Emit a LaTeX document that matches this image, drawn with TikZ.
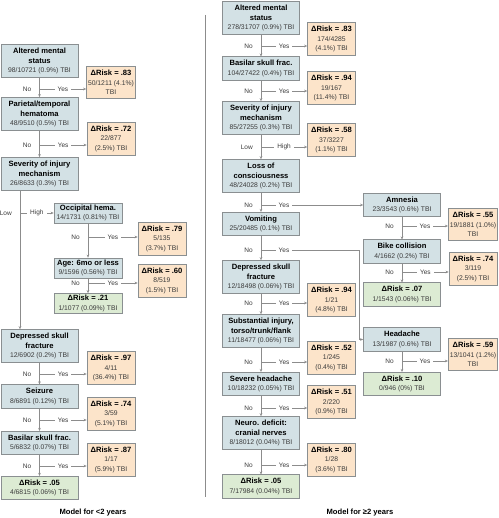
\documentclass[tikz,border=0pt]{standalone}
\usepackage{fontspec}
\setmainfont{Liberation Sans}
\usepackage{xcolor}
\usepackage{tikz}
\usetikzlibrary{arrows.meta}

\definecolor{nodeblue}{HTML}{D3E1E5}
\definecolor{riskorange}{HTML}{FCE4CA}
\definecolor{leafgreen}{HTML}{DCEBD3}
\definecolor{edgegray}{HTML}{8A8F91}
\definecolor{linegray}{HTML}{8C8C8C}
\definecolor{textgray}{HTML}{3A3A3A}

\newcommand{\ttl}[1]{{\fontsize{7.6}{9.5}\selectfont\bfseries\color{black}#1}}

\begin{document}
\begin{tikzpicture}[x=1pt,y=-1pt,
    box/.style={draw=edgegray,line width=0.7pt,align=center,inner xsep=1.5pt,inner ysep=3.5pt,
        font=\fontsize{6.8}{9.5}\selectfont,text=textgray},
    split/.style={box,fill=nodeblue,minimum width=77pt},
    subsplit/.style={box,fill=nodeblue,minimum width=68pt,inner ysep=1.8pt},
    risk/.style={box,fill=riskorange,minimum width=48pt},
    leaf/.style={box,fill=leafgreen,minimum width=77pt},
    subleaf/.style={leaf,minimum width=68pt,inner ysep=1.8pt},
    flow/.style={draw=linegray,line width=0.6pt,-{Stealth[length=3pt,width=2.6pt]}},
    lbl/.style={font=\fontsize{6.5}{8}\selectfont,text=textgray,inner sep=1pt},
    yeslbl/.style={lbl,fill=white,inner xsep=3pt}]
    \useasboundingbox (0,0) rectangle (498,518);

    % Model for children under 2 years
    \node[split] (lA) at (39.5,61) {\ttl{Altered mental}\\\ttl{status}\\98/10721 (0.9\%) TBI};
    \node[risk] (lAr) at (111,82.5) {\ttl{ΔRisk = .83}\\50/1211 (4.1\%)\\TBI};
    \node[split] (lP) at (39.5,114) {\ttl{Parietal/temporal}\\\ttl{hematoma}\\48/9510 (0.5\%) TBI};
    \node[risk] (lPr) at (111,138.5) {\ttl{ΔRisk = .72}\\22/877\\(2.5\%) TBI};
    \node[split] (lS) at (39.5,174) {\ttl{Severity of injury}\\\ttl{mechanism}\\26/8633 (0.3\%) TBI};
    \node[subsplit] (lO) at (88,213) {\ttl{Occipital hema.}\\14/1731 (0.81\%) TBI};
    \node[risk] (lOr) at (162,238.5) {\ttl{ΔRisk = .79}\\5/135\\(3.7\%) TBI};
    \node[subsplit] (lG) at (88,268) {\ttl{Age: 6mo or less}\\9/1596 (0.56\%) TBI};
    \node[risk] (lGr) at (162,280.5) {\ttl{ΔRisk = .60}\\8/519\\(1.5\%) TBI};
    \node[subleaf] (lGn) at (88,303.5) {\ttl{ΔRisk = .21}\\1/1077 (0.09\%) TBI};
    \node[split] (lD) at (39.5,346) {\ttl{Depressed skull}\\\ttl{fracture}\\12/6902 (0.2\%) TBI};
    \node[risk] (lDr) at (111,368) {\ttl{ΔRisk = .97}\\4/11\\(36.4\%) TBI};
    \node[split] (lZ) at (39.5,396.5) {\ttl{Seizure}\\8/6891 (0.12\%) TBI};
    \node[risk] (lZr) at (111,413.5) {\ttl{ΔRisk = .74}\\3/59\\(5.1\%) TBI};
    \node[split] (lB) at (39.5,443) {\ttl{Basilar skull frac.}\\5/6832 (0.07\%) TBI};
    \node[risk] (lBr) at (111,459.5) {\ttl{ΔRisk = .87}\\1/17\\(5.9\%) TBI};
    \node[leaf] (lE) at (39.5,488) {\ttl{ΔRisk = .05}\\4/6815 (0.06\%) TBI};
    \node[font=\fontsize{7.6}{9}\selectfont\bfseries] (capL) at (93,513) {Model for <2 years};

    % Model for children 2 years and older
    \node[split] (rA) at (261,18) {\ttl{Altered mental}\\\ttl{status}\\278/31707 (0.9\%) TBI};
    \node[risk] (rAr) at (331.5,39) {\ttl{ΔRisk = .83}\\174/4285\\(4.1\%) TBI};
    \node[split] (rB) at (261,68.5) {\ttl{Basilar skull frac.}\\104/27422 (0.4\%) TBI};
    \node[risk] (rBr) at (331.5,88) {\ttl{ΔRisk = .94}\\19/167\\(11.4\%) TBI};
    \node[split] (rS) at (261,118) {\ttl{Severity of injury}\\\ttl{mechanism}\\85/27255 (0.3\%) TBI};
    \node[risk] (rSr) at (331.5,140) {\ttl{ΔRisk = .58}\\37/3227\\(1.1\%) TBI};
    \node[split] (rL) at (261,176) {\ttl{Loss of}\\\ttl{consciousness}\\48/24028 (0.2\%) TBI};
    \node[split] (rM) at (402,205) {\ttl{Amnesia}\\23/3543 (0.6\%) TBI};
    \node[risk] (rMr) at (473,224.5) {\ttl{ΔRisk = .55}\\19/1881 (1.0\%)\\TBI};
    \node[split] (rK) at (402,251.5) {\ttl{Bike collision}\\4/1662 (0.2\%) TBI};
    \node[risk] (rKr) at (473,268.5) {\ttl{ΔRisk = .74}\\3/119\\(2.5\%) TBI};
    \node[leaf] (rKn) at (402,294.5) {\ttl{ΔRisk = .07}\\1/1543 (0.06\%) TBI};
    \node[split] (rV) at (261,224) {\ttl{Vomiting}\\25/20485 (0.1\%) TBI};
    \node[split] (rD) at (261,277) {\ttl{Depressed skull}\\\ttl{fracture}\\12/18498 (0.06\%) TBI};
    \node[risk] (rDr) at (331.5,300) {\ttl{ΔRisk = .94}\\1/21\\(4.8\%) TBI};
    \node[split] (rT) at (261,331) {\ttl{Substantial injury,}\\\ttl{torso/trunk/flank}\\11/18477 (0.06\%) TBI};
    \node[risk] (rTr) at (331.5,357.5) {\ttl{ΔRisk = .52}\\1/245\\(0.4\%) TBI};
    \node[split] (rH) at (402,339.5) {\ttl{Headache}\\13/1987 (0.6\%) TBI};
    \node[risk] (rHr) at (473,354.5) {\ttl{ΔRisk = .59}\\13/1041 (1.2\%)\\TBI};
    \node[leaf] (rHn) at (402,384) {\ttl{ΔRisk = .10}\\0/946 (0\%) TBI};
    \node[split] (rY) at (261,384) {\ttl{Severe headache}\\10/18232 (0.05\%) TBI};
    \node[risk] (rYr) at (331.5,402) {\ttl{ΔRisk = .51}\\2/220\\(0.9\%) TBI};
    \node[split] (rN) at (261,433) {\ttl{Neuro. deficit:}\\\ttl{cranial nerves}\\8/18012 (0.04\%) TBI};
    \node[risk] (rNr) at (331.5,459.5) {\ttl{ΔRisk = .80}\\1/28\\(3.6\%) TBI};
    \node[leaf] (rE) at (261,486.5) {\ttl{ΔRisk = .05}\\7/17984 (0.04\%) TBI};
    \node[font=\fontsize{7.6}{9}\selectfont\bfseries] (capR) at (360,513) {Model for ≥2 years};

    % Divider between the two models
    \draw[linegray,line width=0.6pt] (205,15) -- (205,497);

    % Splits: No goes down, Yes goes right
    \foreach \src/\x/\y/\dst/\no/\yes in {
        lA/39.5/89/lAr/No/Yes, lP/39.5/145/lPr/No/Yes, lS/20/213/lO/Low/High,
        lO/88/237/lOr/No/Yes, lG/88/283/lGr/No/Yes, lD/39.5/374/lDr/No/Yes,
        lZ/39.5/420/lZr/No/Yes, lB/39.5/466/lBr/No/Yes,
        rA/261/46/rAr/No/Yes, rB/261/91/rBr/No/Yes, rS/261/147/rSr/Low/High,
        rM/402/226/rMr/No/Yes, rK/402/272/rKr/No/Yes, rD/261/303/rDr/No/Yes,
        rT/261/362/rTr/No/Yes, rH/402/361/rHr/No/Yes, rY/261/408/rYr/No/Yes,
        rN/261/465/rNr/No/Yes} {
        \coordinate (\src-b) at (\x,\y);
        \node[lbl,anchor=east] (\src-no) at ([xshift=-7pt]\src-b) {\no};
        \draw[flow] (\src-b) -- node[yeslbl] (\src-yes) {\yes} (\src-b -| \dst.west);
    }

    % Trunks
    \foreach \a/\b in {lA/lP, lP/lS, lO/lG, lG/lGn, lD/lZ, lZ/lB, lB/lE,
        rA/rB, rB/rS, rS/rL, rL/rV, rV/rD, rD/rT, rT/rY, rY/rN, rN/rE,
        rM/rK, rK/rKn, rH/rHn}
        \draw[flow] (\a) -- (\b);
    \draw[flow] (lS.south -| lS-b) -- (lD.north -| lS-b);

    % Long Yes branches on the right
    \coordinate (rL-b) at (261,205);
    \node[lbl,anchor=east] (rL-no) at ([xshift=-7pt]rL-b) {No};
    \draw[flow] (rL-b) -- (rM.west);
    \node[yeslbl] (rL-yes) at (284,205) {Yes};

    \coordinate (rV-b) at (261,250);
    \coordinate (rV-c) at (359,250);
    \node[lbl,anchor=east] (rV-no) at ([xshift=-7pt]rV-b) {No};
    \draw[flow] (rV-b) -- (rV-c) |- (rH.west);
    \node[yeslbl] (rV-yes) at (284,250) {Yes};
\end{tikzpicture}
\end{document}
